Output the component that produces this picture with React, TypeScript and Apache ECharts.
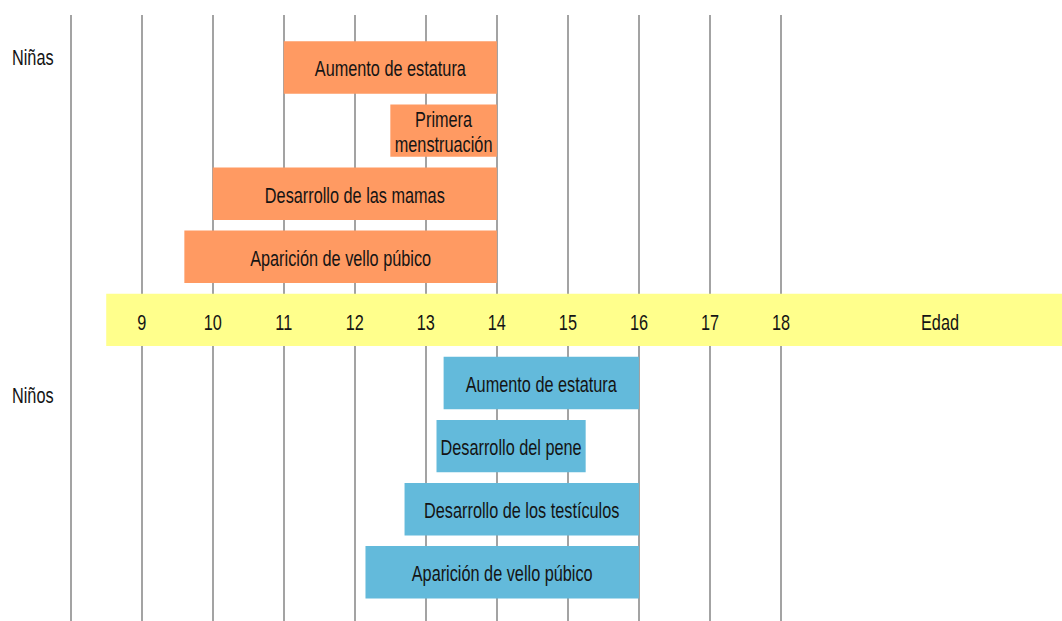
import React, { useEffect, useRef } from "react";
import * as echarts from "echarts";

const girlsLabels = ["Aumento de estatura", "Primera\nmenstruación", "Desarrollo de las mamas", "Aparición de vello púbico"];
const girlsStart = [11, 12.5, 10, 9.6];
const girlsEnd = [14, 14, 14, 14];
const girlsRows = [0, 1, 2, 3];

const boysLabels = ["Aumento de estatura", "Desarrollo del pene", "Desarrollo de los testículos", "Aparición de vello púbico"];
const boysStart = [13.25, 13.15, 12.7, 12.15];
const boysEnd = [16, 15.25, 16, 16];
const boysRows = [5, 6, 7, 8];

const ageTicks = [9, 10, 11, 12, 13, 14, 15, 16, 17, 18];
const bandStart = 8.5;
const bandEnd = 22;
const bandRow = 4;

const FONT = "'Liberation Sans', Arial, sans-serif";
const FS = 22;
const SX = 0.74;
const TEXT = "#141414";

function makeRender(color: string, labels: string[]) {
  return (params: any, api: any) => {
    const s = api.value(0);
    const e = api.value(1);
    const row = api.value(2);
    const p0 = api.coord([s, row]);
    const p1 = api.coord([e, row]);
    const h = api.size([0, 1])[1] * 0.83;
    const children: any[] = [
      {
        type: "rect",
        shape: { x: p0[0], y: p0[1] - h / 2, width: p1[0] - p0[0], height: h },
        style: { fill: color },
      },
    ];
    const label = labels[params.dataIndex];
    if (label) {
      children.push({
        type: "text",
        x: (p0[0] + p1[0]) / 2,
        y: p0[1] + 1,
        scaleX: SX,
        style: {
          text: label,
          fill: TEXT,
          fontSize: FS,
          fontFamily: FONT,
          align: "center",
          verticalAlign: "middle",
          lineHeight: 25,
        },
      });
    }
    return { type: "group", children };
  };
}

function renderTick(params: any, api: any) {
  const v = api.value(0);
  const p = api.coord([v, 0]);
  return {
    type: "text",
    x: p[0],
    y: 322,
    scaleX: SX,
    style: {
      text: String(ageTicks[params.dataIndex]),
      fill: TEXT,
      fontSize: FS,
      fontFamily: FONT,
      align: "center",
      verticalAlign: "middle",
    },
  };
}

export default function App() {
  const ref = useRef<HTMLDivElement>(null);
  useEffect(() => {
    if (!ref.current) return;
    const chart = echarts.init(ref.current, null, { renderer: "svg" });
    const girlsData = girlsStart.map((s, i) => [s, girlsEnd[i], girlsRows[i]]);
    const boysData = boysStart.map((s, i) => [s, boysEnd[i], boysRows[i]]);
    chart.setOption({
      animation: false,
      backgroundColor: "#ffffff",
      grid: [{ left: 70.7, top: 15, width: 710.3, height: 606 }],
      xAxis: [
        {
          type: "value",
          min: 8,
          max: 18,
          interval: 1,
          axisLine: { show: false },
          axisTick: { show: false },
          axisLabel: { show: false },
          splitLine: { show: true, lineStyle: { color: "#8c8c8c", width: 1.6 } },
        },
      ],
      yAxis: [{ type: "value", inverse: true, min: -0.832, max: 8.772, show: false }],
      series: [
        {
          type: "custom",
          renderItem: makeRender("#FFFF8C", []),
          data: [[bandStart, bandEnd, bandRow]],
          z: 2,
        },
        {
          type: "custom",
          renderItem: makeRender("#FF9A62", girlsLabels),
          data: girlsData,
          z: 3,
        },
        {
          type: "custom",
          renderItem: makeRender("#63BADB", boysLabels),
          data: boysData,
          z: 3,
        },
        {
          type: "custom",
          renderItem: renderTick,
          data: ageTicks.map((t) => [t]),
          z: 4,
        },
      ],
      graphic: [
        {
          type: "text",
          x: 12,
          y: 57,
          scaleX: SX,
          style: { text: "Niñas", fill: TEXT, fontSize: FS, fontFamily: FONT, align: "left", verticalAlign: "middle" },
          z: 20,
        },
        {
          type: "text",
          x: 12,
          y: 395,
          scaleX: SX,
          style: { text: "Niños", fill: TEXT, fontSize: FS, fontFamily: FONT, align: "left", verticalAlign: "middle" },
          z: 20,
        },
        {
          type: "text",
          x: 940,
          y: 322,
          scaleX: SX,
          style: { text: "Edad", fill: TEXT, fontSize: FS, fontFamily: FONT, align: "center", verticalAlign: "middle" },
          z: 20,
        },
      ],
    });
    return () => chart.dispose();
  }, []);
  return <div ref={ref} style={{ position: "absolute", left: 0, top: 0, width: 1062, height: 621 }} />;
}
